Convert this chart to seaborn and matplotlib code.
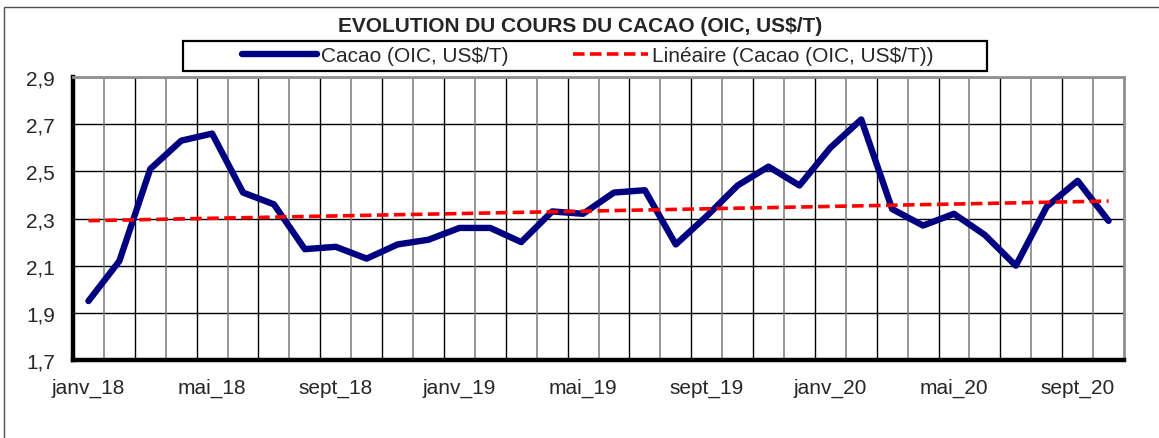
import numpy as np
import pandas as pd
import matplotlib
matplotlib.use("Agg")
import matplotlib.pyplot as plt
from matplotlib.patches import Rectangle
from matplotlib.ticker import FixedLocator, FuncFormatter
import seaborn as sns

# monthly categories, janv_18 .. oct_20
mois = ["janv_18", "févr_18", "mars_18", "avr_18", "mai_18", "juin_18",
        "juil_18", "août_18", "sept_18", "oct_18", "nov_18", "déc_18",
        "janv_19", "févr_19", "mars_19", "avr_19", "mai_19", "juin_19",
        "juil_19", "août_19", "sept_19", "oct_19", "nov_19", "déc_19",
        "janv_20", "févr_20", "mars_20", "avr_20", "mai_20", "juin_20",
        "juil_20", "août_20", "sept_20", "oct_20"]
# cocoa price (thousand US$/T)
cours = [1.95, 2.12, 2.51, 2.63, 2.66, 2.41, 2.36, 2.17, 2.18, 2.13,
         2.19, 2.21, 2.26, 2.26, 2.20, 2.33, 2.32, 2.41, 2.42, 2.19,
         2.31, 2.44, 2.52, 2.44, 2.60, 2.72, 2.34, 2.27, 2.32, 2.23,
         2.10, 2.35, 2.46, 2.29]
yticks = [1.7, 1.9, 2.1, 2.3, 2.5, 2.7, 2.9]

titre = "EVOLUTION DU COURS DU CACAO (OIC, US$/T)"
serie = "Cacao (OIC, US$/T)"
tendance = "Linéaire (Cacao (OIC, US$/T))"

df = pd.DataFrame({"mois": mois, "cours": cours})
df["pos"] = np.arange(len(df))

sns.set_style("white")
plt.rcParams["font.family"] = ["Liberation Sans", "DejaVu Sans"]

W, H = 1159, 439
fig = plt.figure(figsize=(W / 100, H / 100), dpi=100)
ax = fig.add_axes([73 / W, 1 - 361 / H, (1124 - 73) / W, (361 - 78) / H])

sns.lineplot(data=df, x="pos", y="cours", ax=ax, color="#000080", lw=4.6,
             label=serie, solid_capstyle="round", solid_joinstyle="round",
             zorder=4)
# Excel "Linéaire" trendline = least squares fit over the series
sns.regplot(data=df, x="pos", y="cours", ax=ax, scatter=False, ci=None,
            truncate=True, label=tendance,
            line_kws=dict(color="#ff0000", lw=2.6, ls=(0, (3.2, 1.5)), zorder=5))

n = len(df)
ax.set_xlim(-0.5, n - 0.5)
ax.set_ylim(yticks[0], yticks[-1])

# labels every 4 months, centred on the category
ax.set_xticks(df["pos"][::4])
ax.set_xticklabels(df["mois"][::4])
ax.tick_params(axis="x", which="major", length=0, pad=13, labelsize=15)

# category boundaries: tick marks + dark grid on even ones, grey on odd ones
bounds = np.arange(n + 1) - 0.5
ax.xaxis.set_minor_locator(FixedLocator(bounds[2::2]))
ax.tick_params(axis="x", which="minor", direction="in", length=3, width=2.2,
               color="black")
ax.grid(axis="x", which="minor", color="black", lw=1)
ax.vlines(bounds[1:-1:2], 0, 1, transform=ax.get_xaxis_transform(),
          color="#7a7a7a", lw=1.1, zorder=1)

ax.set_yticks(yticks)
ax.yaxis.set_major_formatter(FuncFormatter(lambda v, p: f"{v:.1f}".replace(".", ",")))
ax.tick_params(axis="y", direction="in", length=3, width=2.2, pad=13,
               labelsize=15, color="black")
ax.grid(axis="y", color="black", lw=1)
ax.set_axisbelow(True)

ax.set_xlabel("")
ax.set_ylabel("")
for s in ["left", "bottom"]:
    ax.spines[s].set_color("black")
    ax.spines[s].set_linewidth(3.2)
for s in ["top", "right"]:
    ax.spines[s].set_color("#909090")
    ax.spines[s].set_linewidth(2)

# legend: frameless entries inside a drawn box like the Excel chart
handles, labels = ax.get_legend_handles_labels()
if ax.get_legend():
    ax.get_legend().remove()
fig.add_artist(Rectangle((183 / W, 1 - 72 / H), (987 - 183) / W, 30 / H,
                         transform=fig.transFigure, facecolor="white",
                         edgecolor="black", lw=1.6, zorder=4))
leg = fig.legend(handles, labels, loc="center", ncol=2, frameon=False,
                 bbox_to_anchor=(588 / W, 1 - 57 / H), fontsize=15,
                 handlelength=3.6, handletextpad=0.2, columnspacing=3.1,
                 borderpad=0)
leg.set_zorder(5)

fig.text(580 / W, 1 - 27 / H, titre, ha="center", va="center",
         fontsize=15, fontweight="bold")

# outer chart border
fig.add_artist(Rectangle((4 / W, -0.1), 1.2, 1.1 - 8 / H,
                         transform=fig.transFigure, fill=False,
                         edgecolor="#505050", lw=1, zorder=0))

fig.savefig("out.png", dpi=100)
plt.close(fig)
